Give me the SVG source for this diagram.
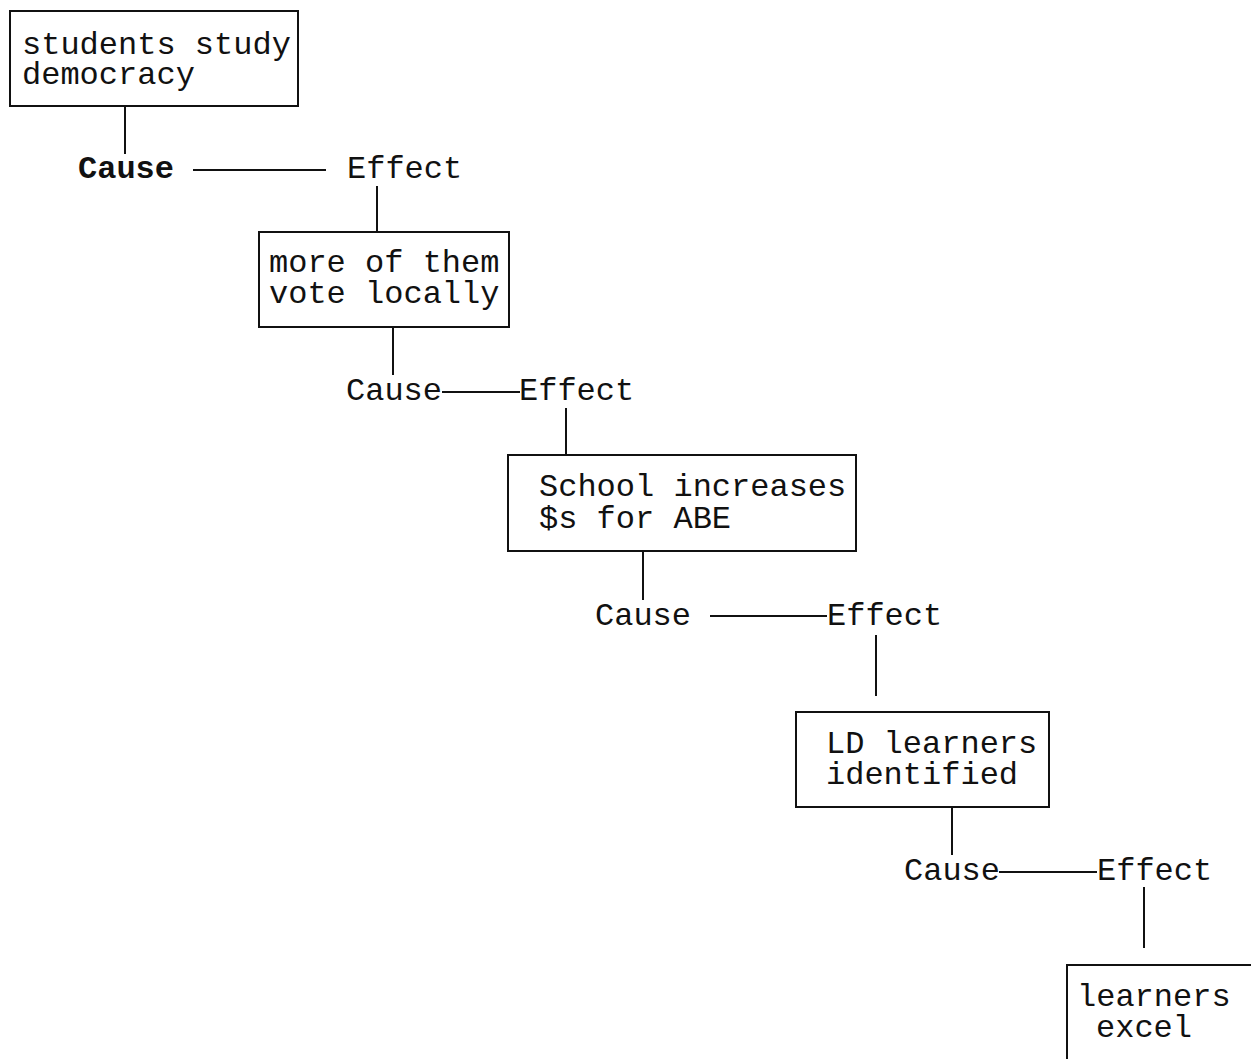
<svg xmlns="http://www.w3.org/2000/svg" width="1251" height="1059" viewBox="0 0 1251 1059">
  <style>
    .box { fill: #ffffff; stroke: #111111; stroke-width: 2; }
    .conn line { stroke: #111111; stroke-width: 2; }
    text { font-family: "Liberation Mono", "Courier New", monospace; font-size: 32px; fill: #111111; }
    .bold { font-weight: bold; }
  </style>
  <rect width="1251" height="1059" fill="#ffffff"/>

  <!-- connectors -->
  <g id="connectors" class="conn">
    <line x1="125" y1="106" x2="125" y2="154"/>
    <line x1="193" y1="170" x2="326" y2="170"/>
    <line x1="377" y1="186" x2="377" y2="232"/>

    <line x1="393" y1="327" x2="393" y2="375"/>
    <line x1="442" y1="392" x2="520" y2="392"/>
    <line x1="566" y1="408" x2="566" y2="455"/>

    <line x1="643" y1="551" x2="643" y2="600"/>
    <line x1="710" y1="616" x2="827" y2="616"/>
    <line x1="876" y1="635" x2="876" y2="696"/>

    <line x1="952" y1="807" x2="952" y2="855"/>
    <line x1="999" y1="872" x2="1097" y2="872"/>
    <line x1="1144" y1="887" x2="1144" y2="948"/>
  </g>

  <!-- nodes -->
  <g id="n1">
    <rect class="box" x="10" y="11" width="288" height="95"/>
    <text x="22" y="54">students study</text>
    <text x="22" y="84">democracy</text>
  </g>
  <g id="cause1"><text class="bold" x="78" y="178">Cause</text></g>
  <g id="effect1"><text x="347" y="178">Effect</text></g>

  <g id="n2">
    <rect class="box" x="259" y="232" width="250" height="95"/>
    <text x="269" y="272">more of them</text>
    <text x="269" y="303">vote locally</text>
  </g>
  <g id="cause2"><text x="346" y="400">Cause</text></g>
  <g id="effect2"><text x="519" y="400">Effect</text></g>

  <g id="n3">
    <rect class="box" x="508" y="455" width="348" height="96"/>
    <text x="539" y="496">School increases</text>
    <text x="539" y="528">$s for ABE</text>
  </g>
  <g id="cause3"><text x="595" y="625">Cause</text></g>
  <g id="effect3"><text x="827" y="625">Effect</text></g>

  <g id="n4">
    <rect class="box" x="796" y="712" width="253" height="95"/>
    <text x="826" y="753">LD learners</text>
    <text x="826" y="784">identified</text>
  </g>
  <g id="cause4"><text x="904" y="880">Cause</text></g>
  <g id="effect4"><text x="1097" y="880">Effect</text></g>

  <g id="n5">
    <rect class="box" x="1067" y="965" width="200" height="110"/>
    <text x="1077" y="1006">learners</text>
    <text x="1096" y="1037">excel</text>
  </g>
</svg>
